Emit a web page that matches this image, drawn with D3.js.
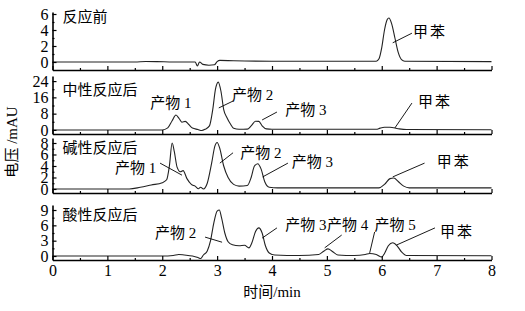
<!DOCTYPE html>
<html><head><meta charset="utf-8">
<script src="https://cdn.jsdelivr.net/npm/d3@7"></script>
<style>
body{margin:0;background:#fff;}
svg{display:block;}
.num{font-family:"Liberation Serif","Times New Roman",serif;}
.cjk{font-family:"Liberation Serif","Noto Sans CJK SC",serif;}
</style></head>
<body><svg id="c" width="525" height="311"></svg>
<script>
// ---- data ----
const timeTicks = [0,1,2,3,4,5,6,7,8];
const panelTitles = ["反应前","中性反应后","碱性反应后","酸性反应后"];
const yTicks1 = [0,2,4,6], yTicks2 = [0,8,16,24], yTicks3 = [0,2,4,6,8], yTicks4 = [0,3,6,9];
const yMinor1 = [1,3,5], yMinor2 = [4,12,20], yMinor3 = [1,3,5,7], yMinor4 = [1.5,4.5,7.5];

const trace1 = [[0,0],[1.5,0],[1.7,0.06],[1.9,0.05],[2.2,0],[2.6,0],[2.64,-0.5],[2.68,0],[2.74,-0.3],[2.85,-0.4],[2.95,-0.35],[3.0,0.05],[3.05,0.2],[3.3,0.15],[4,0.1],[5.9,0.1],[5.95,0.4],[6.0,1.8],[6.05,4.0],[6.1,5.3],[6.13,5.5],[6.18,4.8],[6.24,3.0],[6.3,1.2],[6.36,0.3],[6.42,0.1],[8,0.05]];
const trace2 = [[0,0],[2.0,0],[2.1,1],[2.18,4.5],[2.25,7.3],[2.31,5.5],[2.36,3.8],[2.42,4.2],[2.48,2.8],[2.55,0.9],[2.65,0.2],[2.72,-0.3],[2.78,0.3],[2.86,2],[2.92,10],[2.97,20],[3.02,23.5],[3.07,19],[3.12,10],[3.18,6],[3.24,3],[3.3,0.8],[3.4,0.3],[3.55,0.4],[3.62,2],[3.7,4.3],[3.76,4.2],[3.82,2],[3.9,0.5],[4.0,0.3],[5.9,0.3],[5.97,0.9],[6.05,1.3],[6.15,1.3],[6.3,0.6],[6.45,0.2],[8,0.1]];
const trace3 = [[0,0],[1.4,0],[1.6,0.3],[1.8,0.7],[2.0,1.1],[2.08,1.6],[2.13,4],[2.18,8],[2.22,6.5],[2.27,3.8],[2.33,3.0],[2.38,3.2],[2.45,1.8],[2.53,0.8],[2.6,0.5],[2.66,0.05],[2.7,0.3],[2.75,0],[2.82,1],[2.9,4.5],[2.96,7.5],[3.0,8.1],[3.05,7],[3.12,4],[3.2,2],[3.3,0.8],[3.4,0.5],[3.55,0.6],[3.62,2],[3.68,4],[3.74,4.4],[3.8,3.5],[3.87,1.2],[3.95,0.3],[4.1,0.2],[5.95,0.2],[6.05,0.8],[6.15,1.8],[6.22,1.9],[6.3,1.3],[6.4,0.5],[6.5,0.2],[8,0.2]];
const trace4 = [[0,0],[2.0,0],[2.2,0.1],[2.3,0.3],[2.4,0.2],[2.55,0],[2.65,-0.3],[2.7,-0.5],[2.75,0.2],[2.82,1],[2.88,3],[2.94,6.5],[3.0,8.8],[3.04,9],[3.08,7.5],[3.14,4.5],[3.2,2.8],[3.28,2.2],[3.4,2.0],[3.5,2.1],[3.58,1.6],[3.63,2.5],[3.7,4.8],[3.76,5.5],[3.82,4.5],[3.88,2],[3.95,0.6],[4.05,0.2],[4.5,0.1],[4.85,0.3],[4.95,1.0],[5.02,1.4],[5.1,0.9],[5.2,0.2],[5.5,0.1],[5.7,0.3],[5.78,0.5],[5.9,0.3],[6.0,-0.2],[6.05,0.5],[6.12,2.0],[6.2,2.6],[6.28,2.0],[6.36,0.8],[6.45,0.1],[8,0.05]];

// annotations: text, label (t,v), leader from (t,v) to (t,v) or null
const notes1 = [["甲苯",6.57,3.75,[6.2,2.4,6.55,3.6]]];
const notes2 = [["产物 1",1.78,13.2,null],["产物 2",3.27,17.2,[3.03,10.8,3.29,14.2]],["产物 3",4.24,9.8,[3.82,4.9,4.09,8.8]],["甲苯",6.66,13.7,[6.24,1,6.55,13.2]]];
const notes3 = [["产物 1",1.14,3.65,[1.96,4.5,2.36,2.4]],["产物 2",3.42,6.3,[3.05,4.5,3.29,6.3]],["产物 3",4.36,4.7,[3.83,2.1,4.29,4.5]],["甲苯",7.0,4.7,[6.2,2.1,6.78,4.5]]];
const notes4 = [["产物 2",1.87,4.5,[2.78,3.7,3.09,2.7]],["产物 3",4.24,6.1,[3.82,3.5,4.09,5.5]],["产物 4",5.0,6.1,[4.96,1.6,5.27,4.1]],["产物 5",5.87,6.1,[5.78,0.6,5.87,4.7]],["甲苯",7.06,4.7,[6.27,2.15,6.97,5.5]]];

// ---- layout ----
const svg = d3.select("#c");
const x = d3.scaleLinear().domain([0,8]).range([52.5,491.5]);
const panels = [
  {trace:trace1, ticks:yTicks1, minor:yMinor1, notes:notes1, dom:[-1,6.25], rng:[70,12], titleV:5.6},
  {trace:trace2, ticks:yTicks2, minor:yMinor2, notes:notes2, dom:[-2,26.5], rng:[134,76], titleV:19.6},
  {trace:trace3, ticks:yTicks3, minor:yMinor3, notes:notes3, dom:[-0.7,8.87], rng:[193,138], titleV:7.1},
  {trace:trace4, ticks:yTicks4, minor:yMinor4, notes:notes4, dom:[-0.78,9.98], rng:[260,205], titleV:8.0}
];

panels.forEach((p,i)=>{
  const y = d3.scaleLinear().domain(p.dom).range(p.rng);
  const g = svg.append("g");
  // trace
  const line = d3.line().x(d=>x(d[0])).y(d=>y(d[1])).curve(d3.curveMonotoneX);
  g.append("path").datum(p.trace).attr("d",line).attr("fill","none").attr("stroke","#222").attr("stroke-width",1.1);
  // bottom axis
  const last = i===3;
  const xb = g.append("g").attr("transform",`translate(0,${p.rng[0]})`)
    .call(d3.axisBottom(x).tickValues(timeTicks).tickSizeInner(-4).tickSizeOuter(0).tickPadding(5)
      .tickFormat(last? d3.format("d") : ()=>""));
  xb.append("g").call(d3.axisBottom(x).tickValues(d3.range(0.5,8,1)).tickSizeInner(-2).tickSizeOuter(0).tickFormat(()=>""))
    .select(".domain").remove();
  // left axis
  const yl = g.append("g").attr("transform",`translate(${x(0)},0)`)
    .call(d3.axisLeft(y).tickValues(p.ticks).tickSizeInner(-4).tickSizeOuter(0).tickPadding(4));
  yl.append("g").call(d3.axisLeft(y).tickValues(p.minor).tickSizeInner(-2).tickSizeOuter(0).tickFormat(()=>""))
    .select(".domain").remove();
  [xb,yl].forEach(a=>{
    a.selectAll(".domain").attr("stroke","#000").attr("stroke-width",1.6);
    a.selectAll("line").attr("stroke","#000").attr("stroke-width",1.2);
    a.selectAll("text").attr("class","num").attr("font-size",16).attr("fill","#000");
  });
  // title
  g.append("text").attr("class","cjk").attr("x",x(0)+10).attr("y",y(p.titleV)).attr("dy","0.35em")
    .attr("font-size",15).attr("fill","#000").text(panelTitles[i]);
  // notes
  p.notes.forEach(n=>{
    g.append("text").attr("class","cjk").attr("x",x(n[1])).attr("y",y(n[2])).attr("dy","0.35em")
      .attr("font-size",15).attr("fill","#000")
      .attr("letter-spacing", n[0]==="甲苯"?2:0).text(n[0]);
    if(n[3]){
      const L=n[3];
      g.append("line").attr("x1",x(L[0])).attr("y1",y(L[1])).attr("x2",x(L[2])).attr("y2",y(L[3]))
        .attr("stroke","#000").attr("stroke-width",0.9);
    }
  });
});

// axis titles
svg.append("text").attr("class","cjk").attr("x",(x(0)+x(8))/2).attr("y",292).attr("dy","0.35em")
  .attr("text-anchor","middle").attr("font-size",15).text("时间/min");
svg.append("text").attr("class","cjk").attr("transform","translate(12,142) rotate(-90)")
  .attr("text-anchor","middle").attr("dy","0.35em").attr("font-size",15).text("电压 /mAU");
</script></body></html>
